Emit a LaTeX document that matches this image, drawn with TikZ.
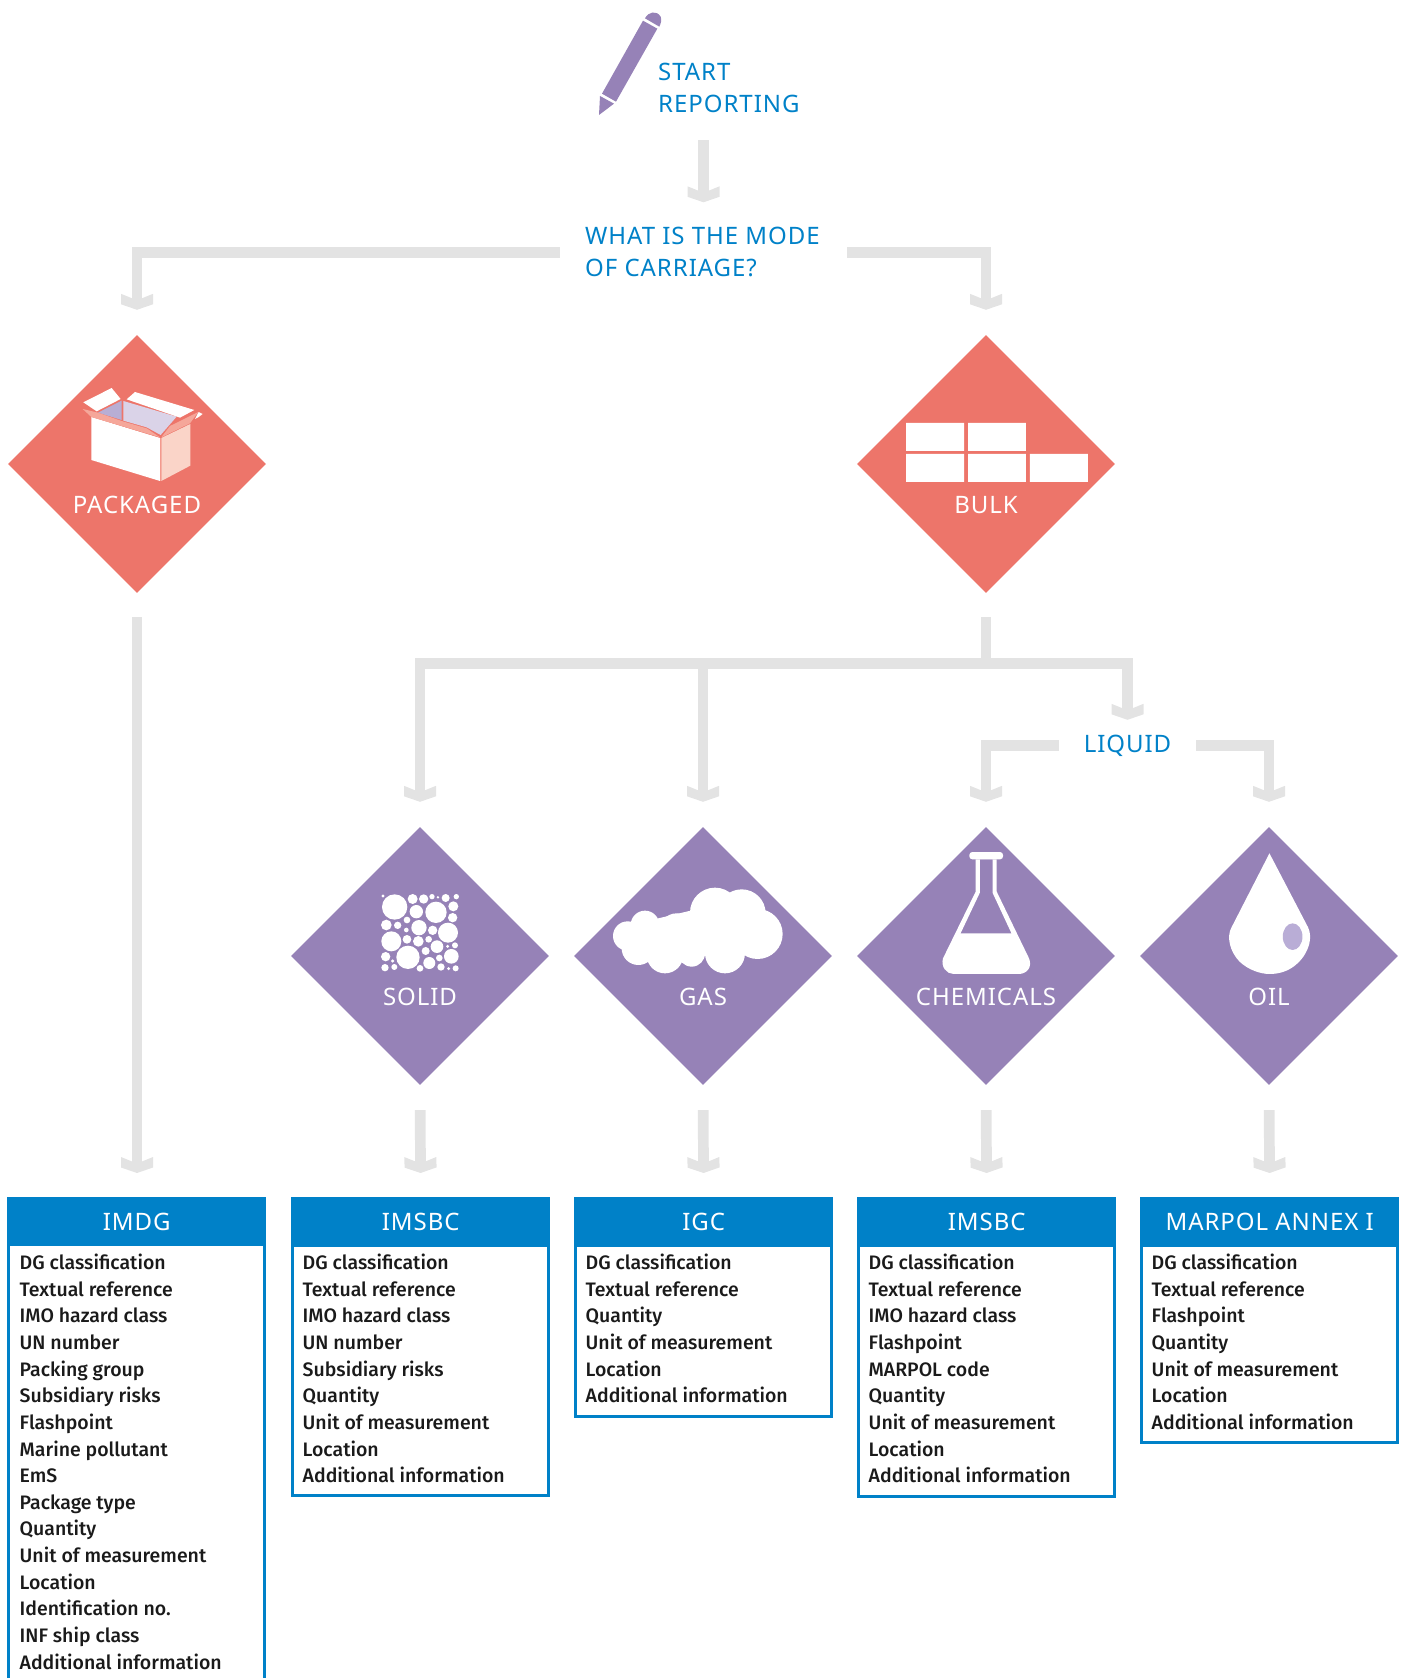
\documentclass[tikz,border=0pt]{standalone}
\usepackage{fontspec}
\usetikzlibrary{shapes.geometric,arrows.meta,positioning}
\setmainfont[LetterSpace=4]{Noto Sans}
\newfontfamily\bodyfont{Fira Sans Medium}
\definecolor{salmon}{HTML}{ED756A}
\definecolor{purp}{HTML}{9682B7}
\definecolor{hblue}{HTML}{0081C8}
\definecolor{conngray}{HTML}{E3E3E3}
\definecolor{ink}{HTML}{1A1A1A}
\definecolor{boxside}{HTML}{FAD4C8}
\definecolor{boxedge}{HTML}{F39A8E}
\definecolor{boxinA}{HTML}{B8AED4}
\definecolor{boxinB}{HTML}{DAD3E8}
\definecolor{boxflap}{HTML}{F5A79A}
\definecolor{dropspot}{HTML}{B9ADD6}
\pgfdeclarearrow{
  name=Chev,
  setup code={\pgfarrowssettipend{0pt}\pgfarrowssetlineend{-8pt}\pgfarrowssetvisualbackend{-16pt}\pgfarrowssetbackend{-16pt}},
  drawing code={
    \pgfpathmoveto{\pgfqpoint{0pt}{0pt}}
    \pgfpathlineto{\pgfqpoint{-5.5pt}{16pt}}
    \pgfpathlineto{\pgfqpoint{-16pt}{16pt}}
    \pgfpathlineto{\pgfqpoint{-9.5pt}{0pt}}
    \pgfpathlineto{\pgfqpoint{-16pt}{-16pt}}
    \pgfpathlineto{\pgfqpoint{-5.5pt}{-16pt}}
    \pgfpathclose
    \pgfusepathqfill},
  parameters={x}
}
\tikzset{
  conn/.style={color=conngray,line width=10.7pt},
  arr/.style={conn,-Chev},
  dia/.style={shape=diamond,aspect=1,minimum width=258pt,minimum height=258pt,inner sep=0pt,fill=#1},
  dlabel/.style={text=white,font=\fontsize{24}{26}\selectfont,inner sep=0pt,anchor=base},
  bluetext/.style={text=hblue,font=\fontsize{24}{32}\selectfont,inner sep=0pt,align=left},
  hdr/.style={fill=hblue,text=white,font=\fontsize{24}{26}\selectfont,minimum width=259pt,minimum height=49pt,inner sep=0pt,anchor=north west},
  listbox/.style={draw=hblue,line width=2.8pt},
  listtext/.style={text=ink,font=\bodyfont\fontsize{19.5}{26.65}\selectfont,inner sep=0pt,align=left,anchor=north west},
}
\begin{document}
\begin{tikzpicture}[x=1pt,y=-1pt]
\useasboundingbox (0,0) rectangle (1400,1678);
% pencil
\begin{scope}[shift={(540,0)},x=0.3333pt,y=-0.3333pt]
\fill[purp] (186,281)--(228,305)--(352,86)--(309,62)--cycle;
\fill[purp] (180,288)--(222,311)--(177,345)--cycle;
\fill[purp] (315,55) .. controls (325,35) and (350,30) .. (362,50) .. controls (366,60) and (362,72) .. (358,80) --cycle;
\end{scope}
\node[bluetext,anchor=north west] (st) at (658,62.5) {START\\REPORTING};
\coordinate (stout) at (703.5,140);
\node[minimum width=287pt,minimum height=100pt,inner sep=0pt] (q) at (703.5,252.5) {};
\node[bluetext,anchor=west] (qt) at (585,252) {WHAT IS THE MODE\\OF CARRIAGE?};
% diamonds
\node[dia=salmon] (pk) at (137,464) {};
\node[dia=salmon] (bk) at (986,464) {};
\node[dia=purp] (sd) at (420,956) {};
\node[dia=purp] (gs) at (703,956) {};
\node[dia=purp] (ch) at (986,956) {};
\node[dia=purp] (ol) at (1269,956) {};
\node[dlabel] (pkl) at (137,513) {PACKAGED};
\node[dlabel] (bkl) at (986,513) {BULK};
\node[dlabel] (sdl) at (420,1005) {SOLID};
\node[dlabel] (gsl) at (703,1005) {GAS};
\node[dlabel] (chl) at (986,1005) {CHEMICALS};
\node[dlabel] (oll) at (1269,1005) {OIL};
% box icon
\begin{scope}[shift={(0,320)},x=0.3333pt,y=-0.3333pt]
\fill[white] (274,291)--(480,354)--(480,483)--(274,420)--cycle;
\fill[boxside] (484,354)--(571,312)--(571,437)--(484,483)--cycle;
\fill[boxedge] (480,354)--(484,354)--(484,483)--(480,483)--cycle;
\fill[boxinA] (294,278)--(365,242)--(365,300)--cycle;
\fill[boxinB] (370,243)--(530,290)--(482,345)--(440,322)--(370,302)--cycle;
\fill[boxflap] (248,267)--(294,278)--(365,303)--(440,325)--(480,352)--(274,291)--cycle;
\fill[boxflap] (484,352)--(510,318)--(595,276)--(570,310)--cycle;
\fill[white] (250,247)--(335,204)--(362,237)--(290,274)--cycle;
\fill[white] (380,238)--(405,216)--(583,270)--(540,293)--cycle;
\fill[white] (595,292)--(608,282)--(596,276)--(585,297)--cycle;
\end{scope}
% bulk icon
\begin{scope}[shift={(850,330)},x=0.3333pt,y=-0.3333pt]
\fill[white] (168,279) rectangle (342,363) (354,279) rectangle (528,363)
  (168,372) rectangle (342,456) (354,372) rectangle (528,456) (540,372) rectangle (714,456);
\end{scope}
% solid icon
\begin{scope}[shift={(290,820)},x=0.3333pt,y=-0.3333pt]
\foreach \cx/\cy/\r in {279/228/5,314/261/38,368/237/15,401/237/14,426/230/8,444/232/4,467/234/12,499/230/8,490/259/15,438/277/32,379/275/20,488/293/14,289/315/16,323/316/11,351/300/10,387/323/23,349/330/7,428/331/14,474/338/30,304/364/30,351/358/13,385/364/16,416/358/10,441/380/19,473/379/5,495/376/9,287/410/14,308/423/5,354/412/35,407/393/12,448/414/10,484/409/22,418/429/18,285/443/11,313/441/9,390/445/10,453/441/11,476/446/5,497/445/9}
  \fill[white] (\cx,\cy) circle (\r);
\end{scope}
% gas icon
\begin{scope}[shift={(570,820)},x=0.3333pt,y=-0.3333pt]
\foreach \cx/\cy/\r in {173/348/44,225/315/43,205/385/50,285/405/55,320/332/52,365/400/40,435/278/75,515/280/72,465/400/60,563/342/75}
  \fill[white] (\cx,\cy) circle (\r);
\fill[white] (265,295)--(362,272)--(580,300)--(560,400)--(200,420)--cycle;
\end{scope}
% flask and drop icons
\begin{scope}[shift={(850,820)},x=0.351pt,y=-0.3333pt]
\fill[white,even odd rule] (358,118)--(358,215)--(265,415) .. controls (258,440) and (275,462) .. (295,462) --(480,462) .. controls (505,462) and (520,440) .. (510,415) --(418,215)--(418,118)--cycle
  (370,118)--(370,218)--(315,340)--(460,340)--(406,218)--(406,118)--cycle;
\fill[white,rounded corners=3pt] (340,96) rectangle (436,118);
\fill[white] (1195,100)--(1305,322) .. controls (1318,350) and (1310,395) .. (1275,430) .. controls (1250,455) and (1220,462) .. (1195,462) .. controls (1170,462) and (1135,450) .. (1110,425) .. controls (1082,395) and (1072,350) .. (1087,322) --cycle;
\fill[dropspot] (1261,350) ellipse (28 and 40);
\end{scope}
% liquid
\node[bluetext,anchor=center,minimum width=137pt,minimum height=51pt] (lq) at (1127.5,745.5) {LIQUID};
% headers and lists
\foreach \nm/\xx/\tt in {a/7/IMDG,b/291/IMSBC,c/574/IGC,d/857/IMSBC,e/1140/MARPOL ANNEX I}{
  \node[hdr] (h\nm) at (\xx,1197) {\tt};
}
\draw[listbox] (8.5,1246) -- (8.5,1678);
\draw[listbox] (264.5,1246) -- (264.5,1678);
\draw[listbox] (292.5,1246) rectangle (548.5,1495.5);
\draw[listbox] (575.5,1246) rectangle (831.5,1416.5);
\draw[listbox] (858.5,1246) rectangle (1114.5,1496.5);
\draw[listbox] (1141.5,1246) rectangle (1397.5,1442.5);
\node[listtext] (la) at (19.5,1253.7) {DG classification\\Textual reference\\IMO hazard class\\UN number\\Packing group\\Subsidiary risks\\Flashpoint\\Marine pollutant\\EmS\\Package type\\Quantity\\Unit of measurement\\Location\\Identification no.\\INF ship class\\Additional information};
\node[listtext] (lb) at (302.5,1253.7) {DG classification\\Textual reference\\IMO hazard class\\UN number\\Subsidiary risks\\Quantity\\Unit of measurement\\Location\\Additional information};
\node[listtext] (lc) at (585.5,1253.7) {DG classification\\Textual reference\\Quantity\\Unit of measurement\\Location\\Additional information};
\node[listtext] (ld) at (868.5,1253.7) {DG classification\\Textual reference\\IMO hazard class\\Flashpoint\\MARPOL code\\Quantity\\Unit of measurement\\Location\\Additional information};
\node[listtext] (le) at (1151.5,1253.7) {DG classification\\Textual reference\\Flashpoint\\Quantity\\Unit of measurement\\Location\\Additional information};
% connectors
\draw[arr] (stout) -- (q.north);
\draw[arr,shorten >=25pt,line join=miter] (q.west) -| (pk.north);
\draw[arr,shorten >=25pt,line join=miter] (q.east) -| (bk.north);
\draw[arr,shorten <=24pt,shorten >=24pt] (pk.south) -- (ha.north -| pk.south);
\coordinate (bus) at (986,663.5);
\coordinate (busg) at (703,663.5);
\draw[conn,shorten <=24pt] (bk.south) -- (bus);
\draw[arr,shorten >=25pt,line join=miter] (bus) -| (sd.north);
\draw[arr,shorten >=25pt] (busg) -- (gs.north);
\draw[arr,line join=miter] (bus) -| (lq.north);
\draw[arr,shorten >=25pt,line join=miter] (lq.west) -| (ch.north);
\draw[arr,shorten >=25pt,line join=miter] (lq.east) -| (ol.north);
\draw[arr,shorten <=25pt,shorten >=24pt] (sd.south) -- (hb.north);
\draw[arr,shorten <=25pt,shorten >=24pt] (gs.south) -- (hc.north);
\draw[arr,shorten <=25pt,shorten >=24pt] (ch.south) -- (hd.north);
\draw[arr,shorten <=25pt,shorten >=24pt] (ol.south) -- (he.north);
\end{tikzpicture}
\end{document}
